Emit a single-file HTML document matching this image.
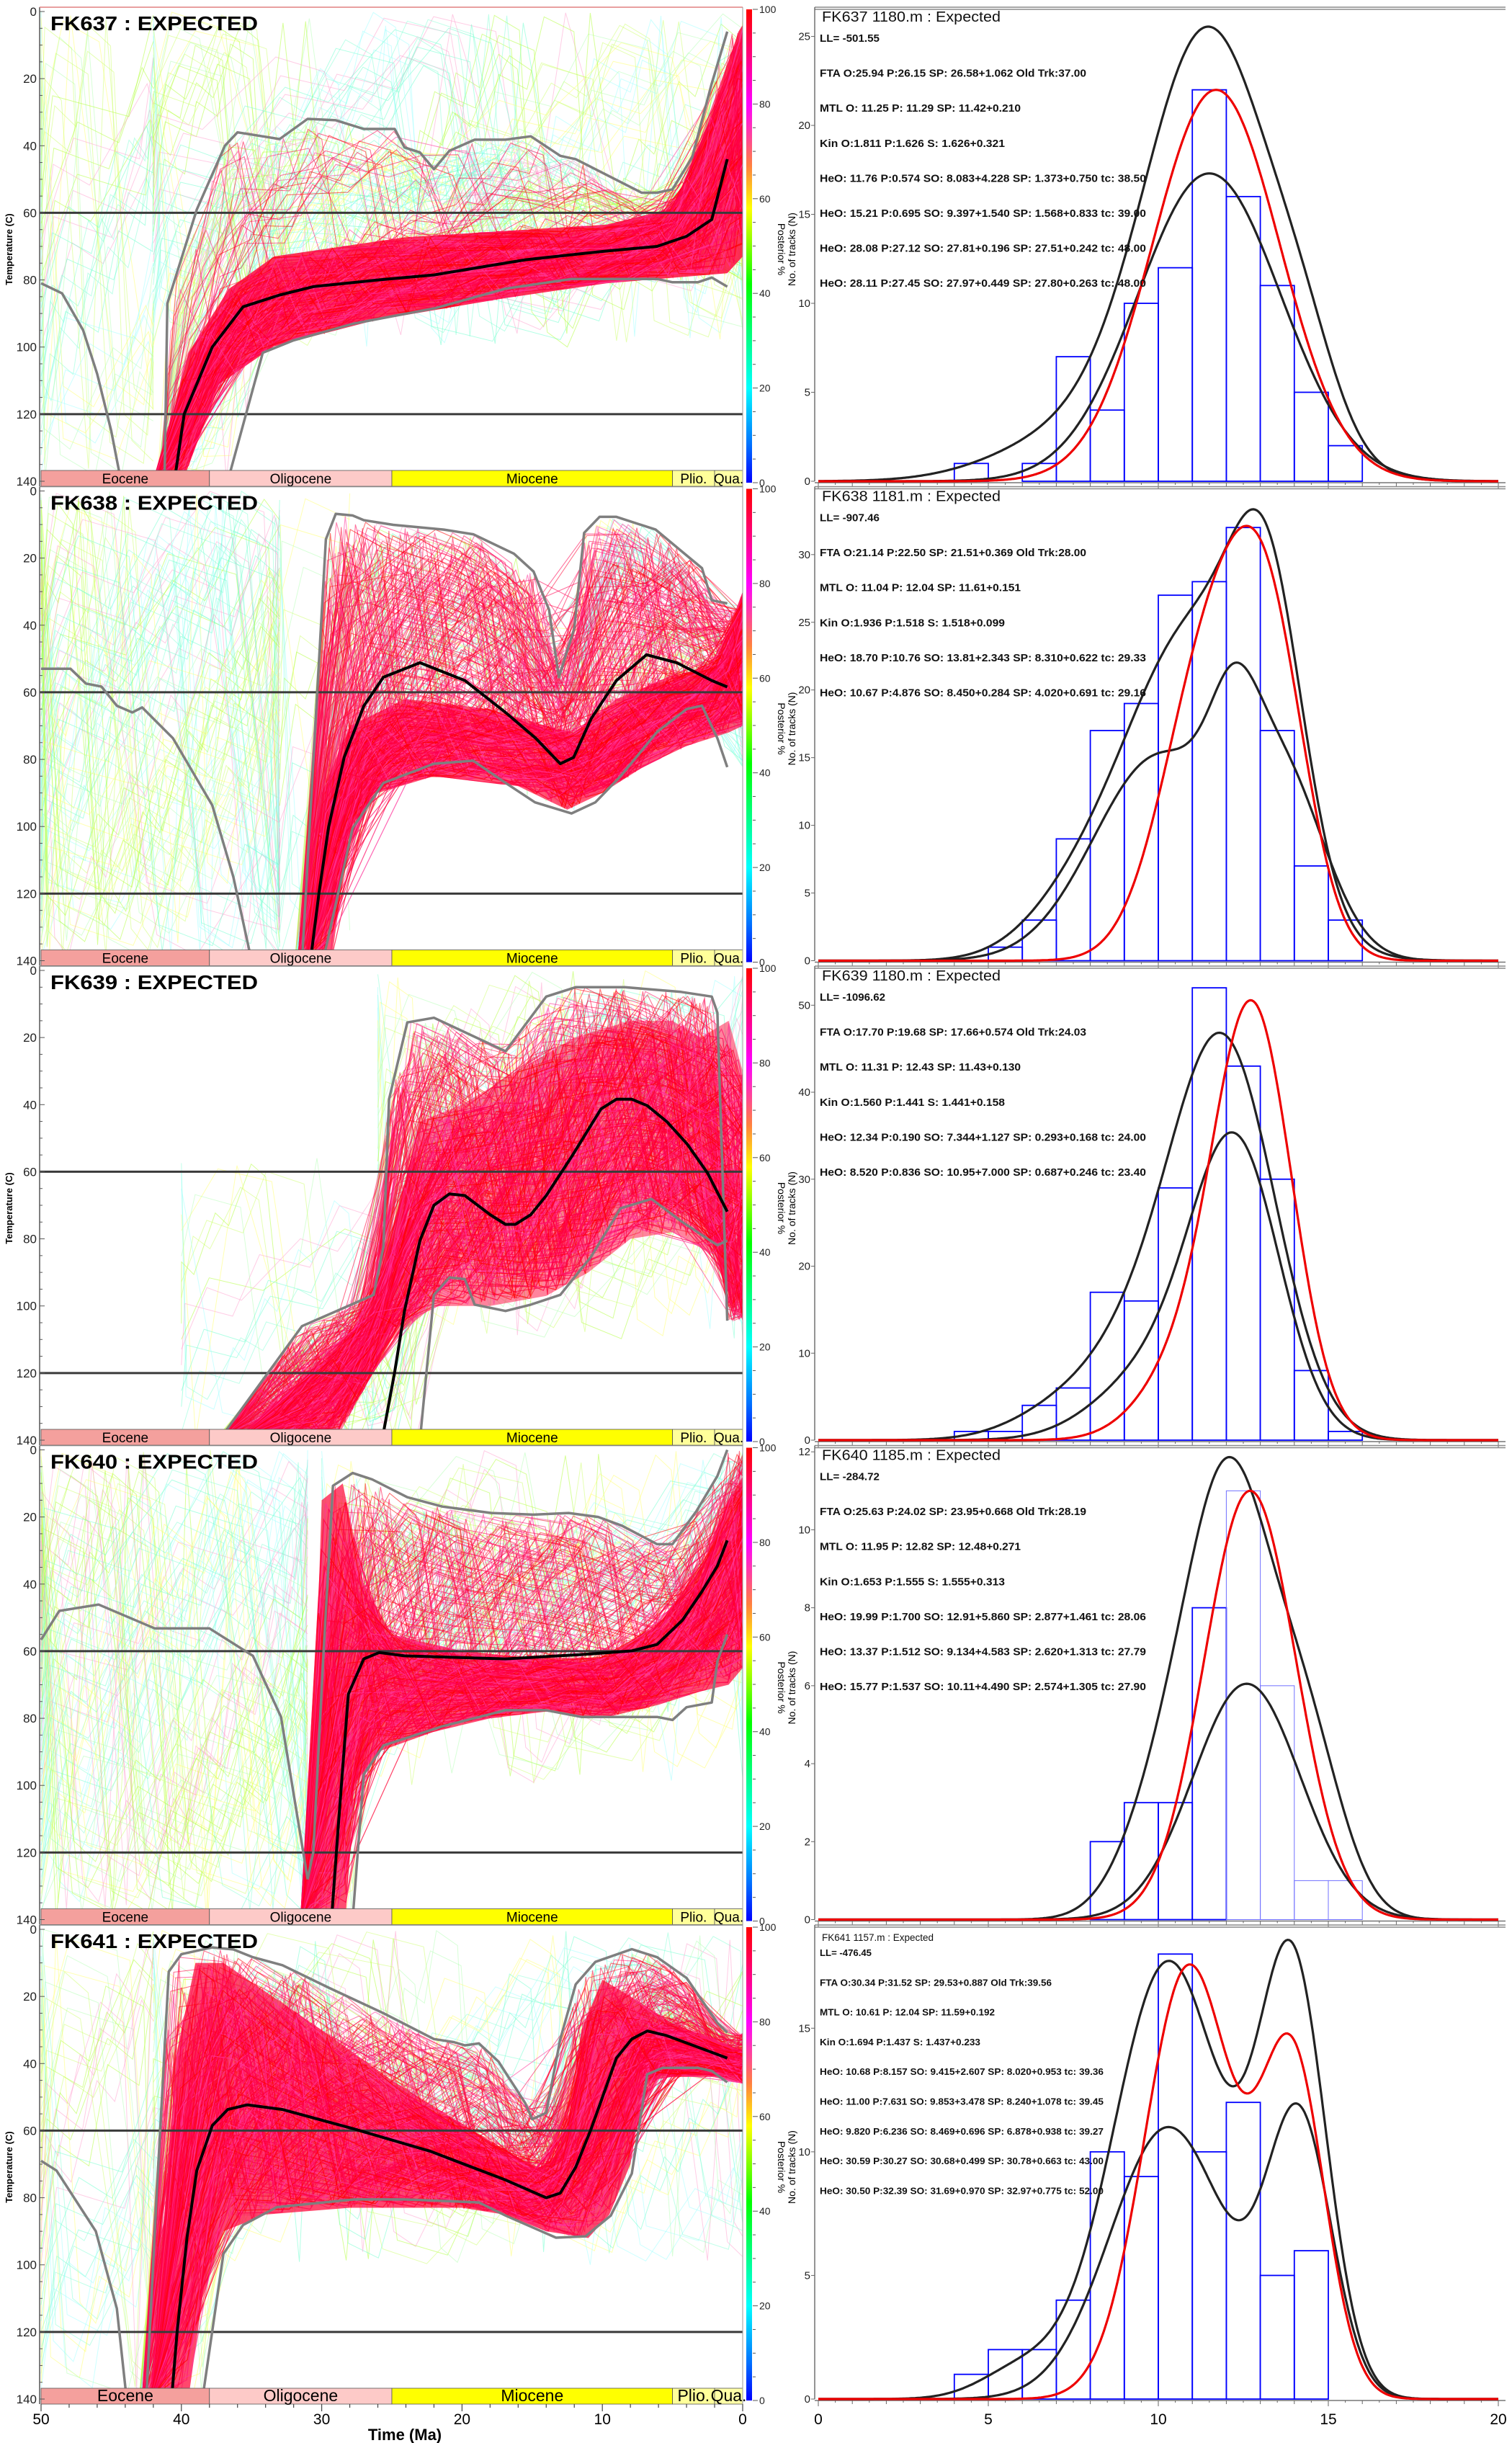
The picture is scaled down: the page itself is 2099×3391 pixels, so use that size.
<!DOCTYPE html>
<html><head><meta charset="utf-8"><title>Thermal history models</title>
<style>
html,body{margin:0;padding:0;background:#fff;}
svg{display:block;font-family:"Liberation Sans",sans-serif;}
</style></head>
<body>
<svg id="fig" xmlns="http://www.w3.org/2000/svg" width="2099" height="3391" viewBox="0 0 2099 3391">
<defs>
<linearGradient id="cbar" x1="0" y1="0" x2="0" y2="1">
<stop offset="0" stop-color="#ff0000"/><stop offset="0.2" stop-color="#ff00ff"/><stop offset="0.33" stop-color="#ff8040"/><stop offset="0.42" stop-color="#ffff00"/><stop offset="0.58" stop-color="#00ff00"/><stop offset="0.8" stop-color="#00ffff"/><stop offset="0.92" stop-color="#0070ff"/><stop offset="1" stop-color="#0000ff"/>
</linearGradient>
</defs>
<rect x="0" y="0" width="2099" height="3391" fill="#fff"/>
</svg>
<script>
// ---------- layout ----------
const panelTop=[16,681.5,1347,2012.5,2678];
const sampleNames=["FK637","FK638","FK639","FK640","FK641"];
// ---------- time-temperature data (age Ma, temp C) ----------
const meanAges=[[40.5,39.8,37.8,35.6,33,30.6,26,22,15.5,10,6.1,4,2.2,1.1],
[30.8,30.2,29.5,28.4,27.0,25.6,23.0,19.8,16.9,14.75,13.0,12.05,10.8,9.0,6.85,4.7,2.2,1.1],
[25.7,24.8,24.1,23.0,22.0,20.9,19.8,18.0,16.9,16.2,15.1,14.0,12.2,10.1,9.0,7.9,6.8,5.4,3.95,2.5,1.1],
[29.3,28.8,28.1,27.0,25.9,24.1,16.9,11.5,7.9,6.1,4.3,2.9,1.8,1.1],
[40.7,40.3,39.6,38.9,37.8,36.7,35.3,32.8,27.7,22.3,16.9,14.0,13.0,11.9,10.8,9.0,7.9,6.8,5.4,3.2,1.1]];
const meanTemps=[[140,120,100,88,84.5,82,80,78.5,74,71.5,70,67,62,44],
[140,120,100,79.4,64.1,55.5,51.2,56.5,66,73.7,81.3,79.4,67.9,56.5,48.8,51.2,56.5,58.4],
[140,119.7,101.5,80.5,70,66.6,67.1,72.8,75.7,75.7,72.8,67.1,55.6,41.3,38.4,38.4,40.3,45.1,51.8,60.4,71.9],
[140,111,72.8,62.3,60.4,61.4,62.3,61,59.9,58,50.8,42.2,34.6,27],
[140,119.7,91.9,71.9,58.5,53.7,52.3,53.7,59.5,66.1,74.7,80,78.6,70.9,59.5,38.4,32.7,30.3,31.7,35.1,38.4]];
const hiAges=[[41.2,41.0,38.9,36.9,36.0,33.0,31.0,29.0,27.0,24.8,24.1,23.0,22.0,20.9,19.1,16.9,15.1,13.0,11.9,7.2,6.1,5.0,3.6,2.2,1.1],
[31.4,29.7,29.0,27.8,27.0,24.9,21.3,19.2,16.3,14.9,13.8,13.1,12.0,11.3,10.2,9.0,6.2,4.0,2.9,2.2,1.1],
[37.1,36.8,31.4,26.3,25.6,25.2,23.9,22.0,16.9,14.0,11.9,8.4,4.4,2.2,1.8,1.1],
[31.0,30.6,29.9,29.2,27.8,26.4,23.9,21.4,17.9,14.9,12.4,10.3,8.6,6.1,5.0,3.3,1.8,1.1],
[42.5,41.8,40.9,40,37.8,36.3,34.9,32.8,29.5,25.6,22,20.6,19.8,18.8,17.4,15.5,15,14,13,11.9,10.5,7.9,6.1,4,1.8,1.1]];
const hiTemps=[[140,87,59,40,36,38,32,32.4,35,35,40.5,42,47,41.5,38.2,38.2,37.2,43,44,54,54,53,43.4,21.4,6],
[140,14.4,6.8,7.3,8.7,10.1,11.5,12.9,18.7,24,35.4,55.5,41,12.5,7.7,7.7,11.5,19.2,23,32.6,33.5],
[140,137,106,96.7,82.4,38.4,15.5,14.1,24.1,7.8,5,5,6.4,7.8,12.6,104.4],
[128,120,63,10.7,6.9,8.8,14.1,16.9,18.8,19.3,18.8,20,22.6,28.1,28.1,18.3,7.8,0],
[140,82.4,12.6,7.4,5.4,6,8.3,10.7,17.4,25,32.7,33.6,34.6,34,39.4,51.8,56.6,54.7,32.7,16.4,9.7,5.9,8.3,14.5,27.9,30.8]];
const loAges=[[36.7,34.2,32,27.7,21.9,16.9,12.2,6.1,5,3.2,2.2,1.1],
[29.9,27.8,25.6,22,19.2,16.9,14.8,12.2,10.5,8.7,6.1,4,2.9,1.8,1.1],
[23.0,22,20.9,19.8,19.1,16.9,15.1,13,10.8,8.7,6.5,4.4,2.5,1.8,1.1],
[27.8,27.0,25.6,21.4,16.9,14,11.5,6.1,5,4,2.2,1.8,1.1],
[38.5,37,35.6,33.2,27.7,24.1,18.8,16.9,13.3,11.2,9.4,7.9,6.8,5.7,3.2,2.2,1.1]];
const loTemps=[[140,101.7,98,93,88.4,82.6,79.7,79.7,80.7,80.7,79.3,82],
[140,100.5,87,81.3,80.4,87,92.8,96.1,92.8,85,71.8,65,64,73.7,82.3],
[140,96.7,91.5,92,99.6,101.5,99.6,96.7,85.3,70.9,68.1,74.7,80,81.9,80.5],
[140,96.7,88.1,82.4,77.6,77.6,79.6,79.6,80.5,76.7,75.3,63,55],
[140,96.7,88.1,82.8,80.5,80.5,81.4,85.3,91.9,91.5,85.3,72.8,43.2,41.3,41.3,42.2,45.6]];
const leftAges=[[50,48.5,47,46,45,44.3],[50,47.9,46.8,45.7,44.6,43.5,42.8,40.6,37.8,36.3,35.0],[],[50,48.7,45.9,41.9,38,34.9,32.9,31.0],[50,48.9,46.1,44.6,43.9]];
const leftTemps=[[81,84,95,108,125,140],[53,53,57.4,58.3,64,66,64.5,73.7,93.7,115,140],[],[56.6,48,46.1,53.2,53.2,61.4,79.6,128],[69,71.9,90,113,140]];
const coreUpAges=[[41.8,39.5,36.6,33.4,24.1,9.7,5,2.6,0.3,0],[31,30,28,24,18,14,12,9,5,2,0],[36,30,26,24.5,23,20,16,12,8,5,3,1,0],[31.3,30.5,30,28.5,27,25,20,15,10,6,3,1,0],[42,41,40.5,39,37,30,25,20,16,14,12.5,11.5,10,8,5,2,0]];
const coreUpTemps=[[140,101.7,82.6,73,67.3,63.5,58.7,34.8,6,4],[140,90,70,62,65,70,72,62,55,52,30],[140,115,100,70,45,40,30,20,15,15,20,15,30],[140,80,15,10,40,55,60,62,62,52,35,15,8],[140,90,40,10,10,30,45,58,68,72,60,30,15,20,28,33,36]];
const coreLoAges=[[39.9,37.3,33.4,26.2,16.9,9.7,1.1,0],[29.3,28,26,22,16,12.5,10,7,4,1,0],[29,27,25,22,18,14,11,8,5,2,0.5,0],[28.3,27.7,26,22,18,14,10,6,3,1,0],[39.5,38.5,37,34,28,20,17,14,11,9.5,8,7,5,2,0]];
const coreLoTemps=[[140,111,99.8,92,85.4,81,78,73],[140,100,90,85,88,95,90,82,76,72,70],[140,125,110,100,100,97,90,80,78,85,100,85],[140,100,90,84,80,78,80,76,72,70,65],[140,110,90,85,83,83,85,90,92,85,70,45,44,44,46]];
const coreOpacity=[0.85,0.7,0.5,0.72,0.75];
const midLineCount=[30,170,160,120,130];
// sparse low-probability regions: [ageFrom, ageTo, tempTop, tempBottom, count]
const sparseRegions=[[[50,42,0,140,40],[42,0,0,100,45]],[[50,33,0,140,90],[33,28,0,140,20]],[[40,26,55,140,15],[26,0,0,110,30]],[[50,31,0,140,90],[30,0,0,100,30]],[[50,42,0,140,40],[42,0,0,100,30]]];
const epochNames=["Eocene","Oligocene","Miocene","Plio.","Qua."];
const epochStart=[50,38,25,5,2];
const epochEnd=[38,25,5,2,0];
const epochColors=["#f4a09d","#fdcac8","#ffff00","#ffff9a","#ffffa6"];
const tempTicks=[0,20,40,60,80,100,120,140];
const ageTicks=[50,40,30,20,10,0];
const cbarTicks=[0,20,40,60,80,100];
// ---------- track-length data ----------
const rightTitles=["FK637 1180.m : Expected","FK638 1181.m : Expected","FK639 1180.m : Expected","FK640 1185.m : Expected","FK641 1157.m : Expected"];
const statLines=[
["LL= -501.55","FTA O:25.94 P:26.15 SP: 26.58+1.062 Old Trk:37.00","MTL O: 11.25 P: 11.29 SP: 11.42+0.210","Kin O:1.811 P:1.626 S: 1.626+0.321","HeO: 11.76 P:0.574 SO: 8.083+4.228 SP: 1.373+0.750 tc: 38.50","HeO: 15.21 P:0.695 SO: 9.397+1.540 SP: 1.568+0.833 tc: 39.00","HeO: 28.08 P:27.12 SO: 27.81+0.196 SP: 27.51+0.242 tc: 48.00","HeO: 28.11 P:27.45 SO: 27.97+0.449 SP: 27.80+0.263 tc: 48.00"],
["LL= -907.46","FTA O:21.14 P:22.50 SP: 21.51+0.369 Old Trk:28.00","MTL O: 11.04 P: 12.04 SP: 11.61+0.151","Kin O:1.936 P:1.518 S: 1.518+0.099","HeO: 18.70 P:10.76 SO: 13.81+2.343 SP: 8.310+0.622 tc: 29.33","HeO: 10.67 P:4.876 SO: 8.450+0.284 SP: 4.020+0.691 tc: 29.16"],
["LL= -1096.62","FTA O:17.70 P:19.68 SP: 17.66+0.574 Old Trk:24.03","MTL O: 11.31 P: 12.43 SP: 11.43+0.130","Kin O:1.560 P:1.441 S: 1.441+0.158","HeO: 12.34 P:0.190 SO: 7.344+1.127 SP: 0.293+0.168 tc: 24.00","HeO: 8.520 P:0.836 SO: 10.95+7.000 SP: 0.687+0.246 tc: 23.40"],
["LL= -284.72","FTA O:25.63 P:24.02 SP: 23.95+0.668 Old Trk:28.19","MTL O: 11.95 P: 12.82 SP: 12.48+0.271","Kin O:1.653 P:1.555 S: 1.555+0.313","HeO: 19.99 P:1.700 SO: 12.91+5.860 SP: 2.877+1.461 tc: 28.06","HeO: 13.37 P:1.512 SO: 9.134+4.583 SP: 2.620+1.313 tc: 27.79","HeO: 15.77 P:1.537 SO: 10.11+4.490 SP: 2.574+1.305 tc: 27.90"],
["LL= -476.45","FTA O:30.34 P:31.52 SP: 29.53+0.887 Old Trk:39.56","MTL O: 10.61 P: 12.04 SP: 11.59+0.192","Kin O:1.694 P:1.437 S: 1.437+0.233","HeO: 10.68 P:8.157 SO: 9.415+2.607 SP: 8.020+0.953 tc: 39.36","HeO: 11.00 P:7.631 SO: 9.853+3.478 SP: 8.240+1.078 tc: 39.45","HeO: 9.820 P:6.236 SO: 8.469+0.696 SP: 6.878+0.938 tc: 39.27","HeO: 30.59 P:30.27 SO: 30.68+0.499 SP: 30.78+0.663 tc: 43.00","HeO: 30.50 P:32.39 SO: 31.69+0.970 SP: 32.97+0.775 tc: 52.00"]];
const histStart=[4,5,4,8,4];
const histCounts=[[1,0,1,7,4,10,12,22,16,11,5,2,0],[1,3,9,17,19,27,28,32,17,7,3,0],[1,1,4,6,17,16,29,52,43,30,8,1,0],[2,3,3,8,11,6,1,1,0],[1,2,2,4,10,9,18,10,12,5,6,0]];
const countMax=[26.4,34.7,54,12.05,19];
const countTicks=[[0,5,10,15,20,25],[0,5,10,15,20,25,30],[0,10,20,30,40,50],[0,2,4,6,8,10,12],[0,5,10,15]];
const lengthTicks=[0,5,10,15,20];
// model curve components [amplitude, mean, sd]
const upperComps=[[[25,11.5,1.9],[3.5,14.3,1.0],[2.5,7.5,2.2]],[[19,13.25,1.05],[24,11.0,2.0],[3,7.5,1.5]],[[43,12.0,1.5],[10,9.8,1.5],[4,7.5,1.6]],[[10.4,12.1,1.2],[4.5,14.3,1.1],[3,10.2,1.2]],[[17.7,10.3,1.63],[17,13.95,1.0],[1.2,6,1.2]]];
const redComps=[[[22,11.7,1.87]],[[20,13.3,1.1],[22,11.5,1.35]],[[48,12.8,1.15],[8,10.8,1.3]],[[11,12.7,1.35]],[[17.5,10.9,1.3],[13.5,13.95,0.95]]];
const lowerComps=[[[17.3,11.5,2.1]],[[7,12.2,0.7],[13,13.6,1.3],[15,10,1.9]],[[32,12.3,1.3],[8,10,1.7]],[[6.05,12.6,1.58]],[[11,10.3,1.72],[11,14.15,0.95]]];

// ---------- helpers ----------
const NS="http://www.w3.org/2000/svg";
const svg=document.getElementById('fig');
function mk(tag,attrs,parent){const e=document.createElementNS(NS,tag);for(const k in attrs)e.setAttribute(k,attrs[k]);(parent||svg).appendChild(e);return e;}
const DEG=652/140;
function xAge(t){return 57+(50-t)*19.48;}
function yTemp(p,T){return panelTop[p]+T*DEG;}
function xLen(l){return 1136+l*47.2;}
function base(p){return panelTop[p]+652;}
function yCount(p,n){return base(p)-n*652/countMax[p];}
function frac(x){return x-Math.floor(x);}
function interp(ages,temps,t){
  if(!ages.length)return 140;
  if(t>=ages[0])return 140;
  const n=ages.length;
  if(t<=ages[n-1])return temps[n-1];
  for(let i=0;i<n-1;i++){if(t<=ages[i]&&t>=ages[i+1]){const f=(ages[i]-t)/(ages[i]-ages[i+1]||1);return temps[i]+f*(temps[i+1]-temps[i]);}}
  return temps[n-1];
}
function pathFrom(p,ages,temps){return ages.map((a,i)=>(i?'L':'M')+xAge(a).toFixed(1)+' '+yTemp(p,temps[i]).toFixed(1)).join(' ');}
function gaussSum(comps,l){let s=0;for(const c of comps)s+=c[0]*Math.exp(-((l-c[1])**2)/(2*c[2]*c[2]));return s;}
function txt(x,y,s,attrs,parent){const e=mk('text',Object.assign({x:x,y:y},attrs),parent);e.textContent=s;return e;}

const outerColors=['#7fffd4','#adff2f','#ffff66','#66ffcc','#ccff66','#99ffff','#ff99cc','#b0ffb0'];
const coreColors=['#ff0033','#ff0050','#ff1a6e','#ff0000','#ff3399','#ff0040'];

function crossLines(g,p,up,lo,aFrom,aTo,n,colors,width,op,seed){
  for(let k=0;k<n;k++){
    const step=1.2+frac(k*0.7548+seed)*2.6;
    let t=aFrom-frac(k*0.31+seed)*step;
    const pts=[];
    let j=0;
    pts.push([aFrom,0]);
    while(t>aTo){pts.push([t,0]);t-=step*(0.6+frac(k*0.21+j*0.53+seed));j++;}
    pts.push([aTo,0]);
    const d=pts.map((q,i)=>{const f=frac(k*0.6180339+i*0.4142+seed*0.13+(i%2)*0.37);const u=up(q[0]),l=lo(q[0]);const T=u+f*(l-u);return (i?'L':'M')+xAge(q[0]).toFixed(1)+' '+yTemp(p,T).toFixed(1);}).join(' ');
    const e=mk('path',{d:d,fill:'none',stroke:colors[k%colors.length],'stroke-width':width,'stroke-opacity':op},g);
    
    
  }
}

// ---------- left panels ----------
for(let p=0;p<5;p++){
  const top=panelTop[p];
  const g=mk('g',{});
  
  
  const cp=mk('clipPath',{id:'clip'+p});
  mk('rect',{x:55,y:top-6,width:976,height:643},cp);
  const plot=mk('g',{'clip-path':'url(#clip'+p+')'},g);
  
  
  sparseRegions[p].forEach((r,ri)=>{
    crossLines(plot,p,()=>r[2],()=>r[3],r[0],r[1],r[4],outerColors,1,0.5,ri*0.29+p*0.11);
  });
  const hiF=t=>interp(hiAges[p],hiTemps[p],t), loF=t=>interp(loAges[p],loTemps[p],t);
  const cuF=t=>interp(coreUpAges[p],coreUpTemps[p],t), clF=t=>interp(coreLoAges[p],coreLoTemps[p],t);
  crossLines(plot,p,hiF,loF,hiAges[p][0]+0.5,0,70,outerColors,1,0.55,0.5+p*0.07);
  const up=coreUpAges[p].map((a,i)=>[a,coreUpTemps[p][i]]);
  const lo=coreLoAges[p].map((a,i)=>[a,coreLoTemps[p][i]]).reverse();
  const poly=up.concat(lo).map(q=>xAge(q[0]).toFixed(1)+','+yTemp(p,q[1]).toFixed(1)).join(' ');
  const cf=mk('polygon',{points:poly,fill:'#ff0a3c','fill-opacity':coreOpacity[p]},plot);
  
  
  crossLines(plot,p,hiF,clF,hiAges[p][0]+0.3,0,midLineCount[p],coreColors,1.1,0.55,0.9+p*0.05);
  crossLines(plot,p,cuF,clF,coreUpAges[p][0]+0.2,0,140,coreColors,1.2,0.75,0.3+p*0.03);
  [60,120].forEach(T=>{
    const l=mk('line',{x1:55,x2:1031,y1:yTemp(p,T),y2:yTemp(p,T),stroke:'#3a3a3a','stroke-width':3},plot);
    
    
  });
  [[leftAges[p],leftTemps[p],'left'],[hiAges[p],hiTemps[p],'upper'],[loAges[p],loTemps[p],'lower']].forEach(s=>{
    if(!s[0].length)return;
    const e=mk('path',{d:pathFrom(p,s[0],s[1]),fill:'none',stroke:'#7f7f7f','stroke-width':3.5,'stroke-linejoin':'round'},plot);
    
    
  });
  const m=mk('path',{d:pathFrom(p,meanAges[p],meanTemps[p]),fill:'none',stroke:'#000','stroke-width':4,'stroke-linejoin':'round'},plot);
  
  
  for(let i=0;i<5;i++){
    const r=mk('rect',{x:xAge(epochStart[i]),y:top+637,width:xAge(epochEnd[i])-xAge(epochStart[i]),height:22,fill:epochColors[i],stroke:'#555','stroke-width':0.8},g);
    
    
    const fs=(p===4)?23:19;
    const tl=txt((xAge(epochStart[i])+xAge(epochEnd[i]))/2,top+655,epochNames[i],{'font-size':fs,'text-anchor':'middle',fill:'#000'},g);
    
    
  }
  const ax=mk('line',{x1:55,x2:55,y1:top-6,y2:top+659,stroke:'#555','stroke-width':1.5},g);
  
  
  const tb=mk('line',{x1:55,x2:1031,y1:top-6,y2:top-6,stroke:p===0?'#e08080':'#888','stroke-width':1.5},g);
  
  
  const rb=mk('line',{x1:1031,x2:1031,y1:top-6,y2:top+659,stroke:'#999','stroke-width':1},g);
  
  
  for(let T=0;T<=140;T+=5){
    const tk=mk('line',{x1:55,x2:T%20===0?62:59,y1:yTemp(p,T),y2:yTemp(p,T),stroke:'#555','stroke-width':1},g);
    
    
  }
  tempTicks.forEach(T=>{
    const tl=txt(51,yTemp(p,T)+6,String(T),{'font-size':17,'text-anchor':'end',fill:'#222'},g);
    
    
  });
  if(p%2===0){
    const yt=txt(0,0,'Temperature (C)',{'font-size':13,'font-weight':'bold','text-anchor':'middle',transform:'translate(17,'+(top+330)+') rotate(-90)'},g);
    
    
  }
  const tt=txt(70,top+26,sampleNames[p]+' : EXPECTED',{'font-size':28,'font-weight':'bold',textLength:288,lengthAdjust:'spacingAndGlyphs'},g);
  
  
  const cb=mk('rect',{x:1036,y:top-3,width:8,height:657,fill:'url(#cbar)'},g);
  
  
  for(let v=0;v<=100;v+=5){
    const yy=top+654-v*6.57;
    const tk=mk('line',{x1:1045,x2:v%20===0?1052:1049,y1:yy,y2:yy,stroke:'#555','stroke-width':1},g);
    
    
  }
  cbarTicks.forEach(v=>{
    const cl=txt(1054,top+654-v*6.57+5,String(v),{'font-size':14,fill:'#222'},g);
    
    
  });
  const c1=txt(0,0,'Posterior %',{'font-size':14,'text-anchor':'middle',transform:'translate(1080,'+(top+330)+') rotate(90)'},g);
  
  
}
{
  const g=mk('g',{});
  
  
  for(let t=0;t<=50;t+=2){
    const tk=mk('line',{x1:xAge(t),x2:xAge(t),y1:3337,y2:t%10===0?3347:3342,stroke:'#444','stroke-width':1.2},g);
    
    
  }
  ageTicks.forEach(t=>{
    const l=txt(xAge(t),3365,String(t),{'font-size':21,'text-anchor':'middle'},g);
    
    
  });
  const tl=txt(562,3387,'Time (Ma)',{'font-size':22,'font-weight':'bold','text-anchor':'middle'},g);
  
  
}
// ---------- right panels ----------
for(let p=0;p<5;p++){
  const top=panelTop[p];
  const g=mk('g',{});
  
  
  [top-6,top-3].forEach(yy=>{
    const l=mk('line',{x1:1131,x2:2090,y1:yy,y2:yy,stroke:'#8a8a8a','stroke-width':1.4},g);
    
    
  });
  const ay=mk('line',{x1:1131,x2:1131,y1:top-6,y2:base(p),stroke:'#666','stroke-width':1.4},g);
  
  
  const axx=mk('line',{x1:1131,x2:2090,y1:base(p)+2,y2:base(p)+2,stroke:'#777','stroke-width':1.4},g);
  
  
  for(let l=0;l<=20;l+=0.5){
    const tk=mk('line',{x1:xLen(l),x2:xLen(l),y1:base(p)+2,y2:base(p)+(l%5===0?10:(l%1===0?7:5)),stroke:'#666','stroke-width':1},g);
    
    
  }
  countTicks[p].forEach(v=>{
    const tk=mk('line',{x1:1126,x2:1131,y1:yCount(p,v),y2:yCount(p,v),stroke:'#666','stroke-width':1},g);
    
    
    const l=txt(1125,yCount(p,v)+5,String(v),{'font-size':15,'text-anchor':'end',fill:'#222'},g);
    
    
  });
  const yt=txt(0,0,'No. of tracks (N)',{'font-size':14,'text-anchor':'middle',transform:'translate(1104,'+(top+330)+') rotate(-90)'},g);
  
  
  histCounts[p].forEach((c,i)=>{
    const l0=histStart[p]+i;
    const w=(c===0)?2:1;
    const light=(p===3&&l0>=12&&l0<=15);
    const r=mk('rect',{x:xLen(l0),y:yCount(p,c),width:xLen(l0+w)-xLen(l0),height:base(p)-yCount(p,c),fill:'none',stroke:light?'#7070ff':'#0000ff','stroke-width':light?1:1.8},g);
    
    
  });
  [[upperComps[p],'#222','upper-model-curve'],[lowerComps[p],'#222','lower-model-curve'],[redComps[p],'#ee0000','predicted-curve']].forEach(s=>{
    let d='';
    for(let l=0;l<=20.001;l+=0.05){d+=(l?'L':'M')+xLen(l).toFixed(1)+' '+yCount(p,gaussSum(s[0],l)).toFixed(1)+' ';}
    const e=mk('path',{d:d,fill:'none',stroke:s[1],'stroke-width':3.2},g);
    
    
  });
  const small=(p===4);
  const tt=txt(1141,top+(small?16:14),rightTitles[p],{'font-size':small?14:20,textLength:small?155:248,lengthAdjust:'spacingAndGlyphs',fill:'#111'},g);
  
  
  statLines[p].forEach((s,i)=>{
    const yy=top+(small?37:42)+i*(small?41.3:48.6);
    const e=txt(1138,yy,s,{'font-size':small?13:15,'font-weight':'bold',textLength:(s.length*(small?6.57:7.55)).toFixed(0),lengthAdjust:'spacingAndGlyphs',fill:'#111'},g);
    
    
  });
}
{
  const g=mk('g',{});
  
  
  lengthTicks.forEach(l=>{
    const e=txt(xLen(l),3365,String(l),{'font-size':21,'text-anchor':'middle'},g);
    
    
  });
}
</script>
</body></html>
